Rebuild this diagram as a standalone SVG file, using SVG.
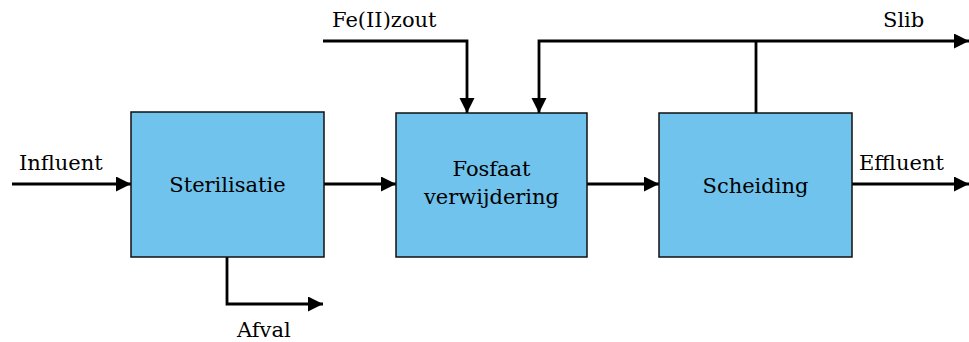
<svg xmlns="http://www.w3.org/2000/svg" width="969" height="342" viewBox="0 0 969 342">
<style>
.box{fill:#6FC3EC;stroke:#111;stroke-width:1.5}
.ln{fill:none;stroke:#000;stroke-width:2.8}
.arr{marker-end:url(#ah)}
.t{font-family:'DejaVu Serif',serif;font-size:21px;fill:#000}
.c{text-anchor:middle}
</style>
<defs>
<marker id="ah" markerUnits="userSpaceOnUse" markerWidth="16" markerHeight="16" refX="15" refY="7.5" orient="auto">
<path d="M0,0 L15,7.5 L0,15 Z" fill="#000"/>
</marker>
</defs>
<g id="connectors">
<line class="ln arr" x1="12" y1="184" x2="131" y2="184"/>
<line class="ln arr" x1="324" y1="184" x2="396" y2="184"/>
<line class="ln arr" x1="587" y1="184" x2="659" y2="184"/>
<line class="ln arr" x1="852" y1="184" x2="969" y2="184"/>
<polyline class="ln arr" points="227,257 227,304 323,304"/>
<polyline class="ln arr" points="323,41 467,41 467,113"/>
<polyline class="ln arr" points="756,41 539,41 539,113"/>
<line class="ln arr" x1="756" y1="41" x2="969" y2="41"/>
<line class="ln" x1="756" y1="41" x2="756" y2="113"/>
</g>
<g id="sterilisatie">
<rect class="box" x="131" y="112" width="193" height="145"/>
<text class="t c" x="227.5" y="192">Sterilisatie</text>
</g>
<g id="fosfaat">
<rect class="box" x="396" y="113" width="191" height="144"/>
<text class="t c" x="491.5" y="176">Fosfaat</text>
<text class="t c" x="491.5" y="204">verwijdering</text>
</g>
<g id="scheiding">
<rect class="box" x="659" y="113" width="193" height="144"/>
<text class="t c" x="755.5" y="193">Scheiding</text>
</g>
<g id="labels">
<text class="t" x="19" y="170">Influent</text>
<text class="t" x="237" y="337">Afval</text>
<text class="t" x="332" y="27">Fe(II)zout</text>
<text class="t" x="883" y="27">Slib</text>
<text class="t" x="859" y="170">Effluent</text>
</g>
</svg>
